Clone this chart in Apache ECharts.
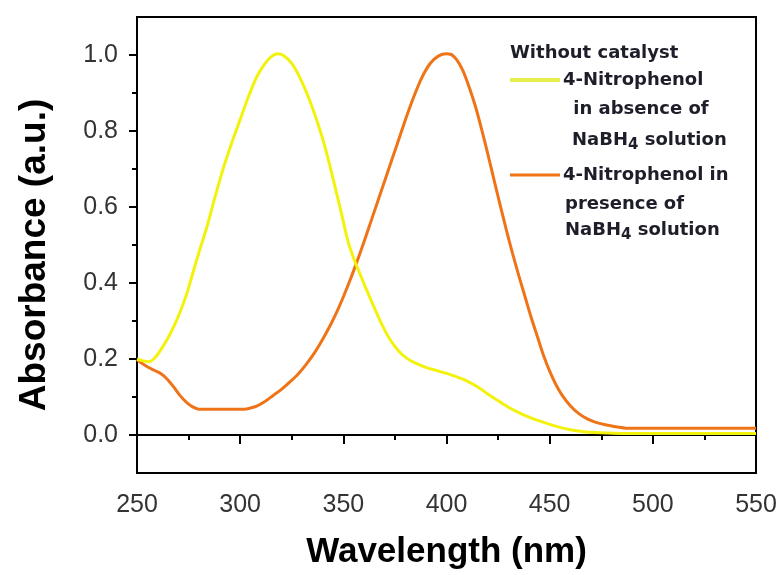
<!DOCTYPE html>
<html><head><meta charset="utf-8">
<script src="https://cdn.jsdelivr.net/npm/echarts@6/dist/echarts.min.js"></script>
<style>html,body{margin:0;padding:0;background:#fff}#c{width:780px;height:575px}</style>
</head><body><div id="c"></div>
<script>
// 4-Nitrophenol in absence of NaBH4 (yellow)
const wlYellow = [250,253,256,259,262,265,268,271,274,277,280,284,288,292,296,300,304,308,312,315,318,321,325,329,333,337,341,345,349,352,355,358,361,365,369,373,377,381,385,390,395,400,405,410,415,420,425,430,435,440,445,450,455,460,465,470,478,485,550];
const absYellow = [0.200,0.195,0.193,0.205,0.228,0.255,0.287,0.325,0.370,0.425,0.480,0.550,0.630,0.705,0.770,0.830,0.890,0.942,0.977,0.995,1.003,0.999,0.978,0.940,0.890,0.830,0.760,0.675,0.585,0.515,0.465,0.425,0.385,0.335,0.287,0.248,0.220,0.201,0.189,0.178,0.170,0.162,0.153,0.142,0.127,0.108,0.090,0.073,0.059,0.047,0.037,0.028,0.020,0.014,0.010,0.007,0.005,0.004,0.004];
// 4-Nitrophenol in presence of NaBH4 (orange)
const wlOrange = [250,254,258,262,265,268,271,274,277,280,290,302,305,308,312,316,320,324,328,332,336,340,344,348,352,356,360,364,368,372,376,380,384,388,392,396,400,402,405,408,411,414,417,420,423,426,429,432,435,438,441,444,447,450,453,456,460,464,468,472,477,483,487,550];
const absOrange = [0.198,0.183,0.171,0.160,0.145,0.125,0.103,0.086,0.074,0.068,0.068,0.068,0.071,0.076,0.088,0.104,0.120,0.139,0.160,0.186,0.216,0.252,0.292,0.338,0.390,0.447,0.508,0.572,0.636,0.700,0.764,0.828,0.888,0.940,0.977,0.997,1.003,1.002,0.987,0.958,0.915,0.865,0.805,0.740,0.672,0.605,0.540,0.478,0.420,0.365,0.310,0.260,0.210,0.168,0.133,0.105,0.077,0.057,0.043,0.034,0.027,0.021,0.018,0.018];
const xTickValues = [250,300,350,400,450,500,550];
const yTickValues = [0,0.2,0.4,0.6,0.8,1.0];
const yMinorTickValues = [0.1,0.3,0.5,0.7,0.9];
const legendTitle = 'Without catalyst';
const xTitle = 'Wavelength (nm)';
const yTitle = 'Absorbance (a.u.)';
const colYellow = '#f2f20c';
const colOrange = '#ef7418';

const zip = (xs, ys) => xs.map((x, i) => [x, ys[i]]);
const chart = echarts.init(document.getElementById('c'), null, {renderer: 'canvas'});
const labelFont = {fontFamily: 'Liberation Sans, Arial, sans-serif', fontSize: 25, color: '#333'};
const xTitleFont = {fontFamily: 'Liberation Sans, Arial, sans-serif', fontSize: 35, fontWeight: 'bold', color: '#000'};
const yTitleFont = {fontFamily: 'Liberation Sans, Arial, sans-serif', fontSize: 37, fontWeight: 'bold', color: '#000', padding: [0, 20, 0, 0]};
const legFont = 'bold 18px "DejaVu Sans", sans-serif';
const rich = {
  a: {font: legFont, fill: '#1e1e2a'},
  s: {fontFamily: 'DejaVu Sans', fontWeight: 'bold', fontSize: 15, fill: '#1e1e2a', padding: [11, 0, 0, 0]}
};
function legText(txt, x, y) {
  return {type: 'text', x: x, y: y, style: {text: txt, rich: rich, verticalAlign: 'middle', align: 'left', font: legFont, fill: '#1e1e2a'}};
}
chart.setOption({
  animation: false,
  backgroundColor: '#fff',
  grid: {left: 137, right: 24, top: 17, bottom: 100, show: true, borderColor: '#000', borderWidth: 2},
  xAxis: {
    type: 'value', min: 250, max: 550, interval: 50,
    axisLine: {show: true, lineStyle: {color: '#000', width: 2}},
    axisTick: {show: true, length: 9, lineStyle: {color: '#000', width: 2}},
    minorTick: {show: true, splitNumber: 2, length: 5, lineStyle: {color: '#000', width: 2}},
    axisLabel: Object.assign({margin: 20, formatter: v => xTickValues.includes(v) ? String(v) : ''}, labelFont),
    splitLine: {show: false},
    name: xTitle, nameLocation: 'middle', nameGap: 62, nameTextStyle: xTitleFont
  },
  yAxis: [{
    type: 'value', min: -0.1, max: 1.1, position: 'left',
    axisLine: {show: true, lineStyle: {color: '#000', width: 2}},
    axisTick: {show: true, customValues: yTickValues, length: 8, lineStyle: {color: '#000', width: 2}},
    axisLabel: Object.assign({customValues: yTickValues, margin: 19, formatter: v => v.toFixed(1)}, labelFont),
    splitLine: {show: false},
    name: yTitle, nameLocation: 'middle', nameGap: 84, nameTextStyle: yTitleFont
  }, {
    type: 'value', min: -0.1, max: 1.1, position: 'left', offset: 0,
    axisLine: {show: false},
    axisTick: {show: true, customValues: yMinorTickValues, length: 5, lineStyle: {color: '#000', width: 2}},
    axisLabel: {show: false},
    splitLine: {show: false}
  }],
  series: [{
    name: '4-Nitrophenol in presence of NaBH4 solution', type: 'line', showSymbol: false, smooth: 0.3,
    data: zip(wlOrange, absOrange), lineStyle: {color: colOrange, width: 3}, itemStyle: {color: colOrange}
  }, {
    name: '4-Nitrophenol in absence of NaBH4 solution', type: 'line', showSymbol: false, smooth: 0.3,
    data: zip(wlYellow, absYellow), lineStyle: {color: colYellow, width: 3}, itemStyle: {color: colYellow}
  }],
  graphic: [
    legText('{a|' + legendTitle + '}', 510, 53),
    {type: 'line', shape: {x1: 510, y1: 80, x2: 560, y2: 80}, style: {stroke: '#e6ee4a', lineWidth: 4}},
    legText('{a|4-Nitrophenol}', 563, 80),
    legText('{a| in absence of}', 567, 109),
    legText('{a|NaBH}{s|4}{a| solution}', 572, 140),
    {type: 'line', shape: {x1: 510, y1: 175, x2: 560, y2: 175}, style: {stroke: colOrange, lineWidth: 3}},
    legText('{a|4-Nitrophenol in}', 563, 175),
    legText('{a|presence of}', 565, 204),
    legText('{a|NaBH}{s|4}{a| solution}', 565, 230)
  ]
});
</script></body></html>
